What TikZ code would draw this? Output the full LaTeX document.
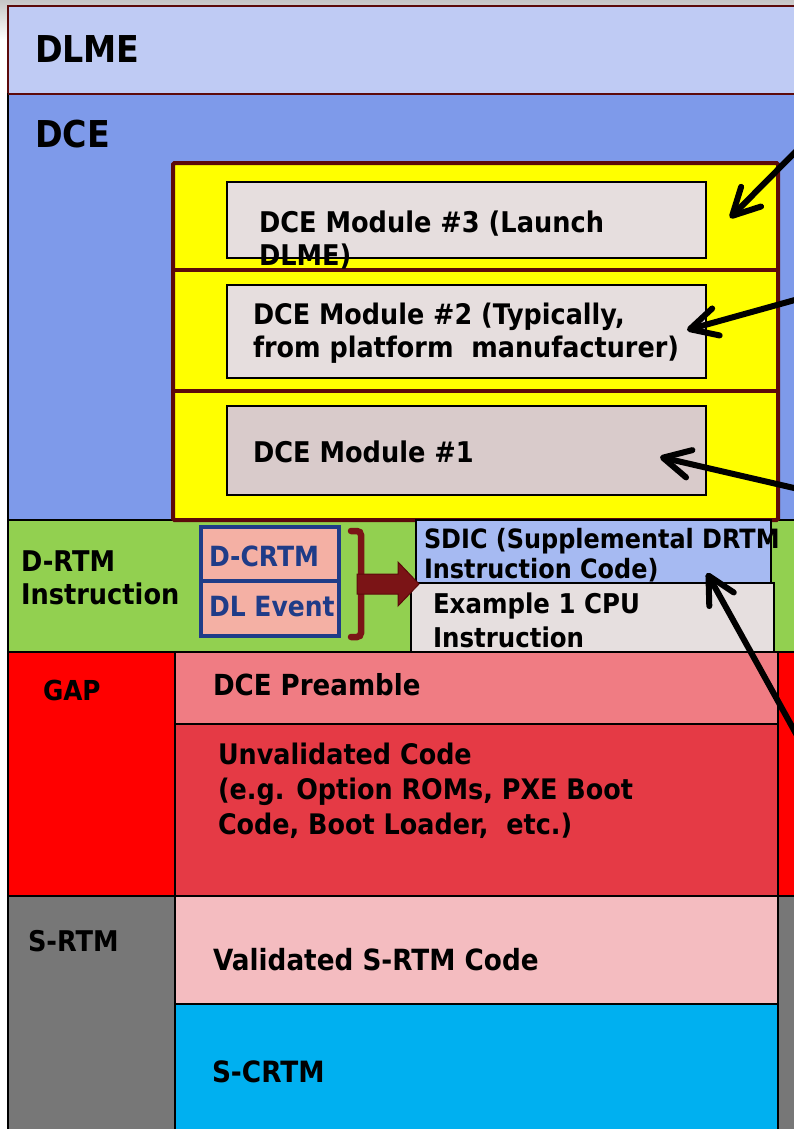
\documentclass[tikz,border=0pt]{standalone}
\usepackage{fontspec}
\setmainfont{DejaVu Sans}[FakeStretch=0.9]
\usetikzlibrary{arrows.meta}

\definecolor{dlmefill}{HTML}{BFCBF4}
\definecolor{dcefill}{HTML}{7E9AEA}
\definecolor{maroonline}{HTML}{5C0A0A}
\definecolor{stackyellow}{HTML}{FFFF00}
\definecolor{modfill}{HTML}{E6DEDE}
\definecolor{modonefill}{HTML}{D9CBCB}
\definecolor{drtmgreen}{HTML}{92D050}
\definecolor{salmon}{HTML}{F4B0A4}
\definecolor{navy}{HTML}{1F3C88}
\definecolor{brackred}{HTML}{7B1416}
\definecolor{sdicfill}{HTML}{A6BAF2}
\definecolor{examplefill}{HTML}{E6DFDF}
\definecolor{gapred}{HTML}{FF0000}
\definecolor{preamblefill}{HTML}{F07C83}
\definecolor{unvalfill}{HTML}{E53A45}
\definecolor{srtmgray}{HTML}{777777}
\definecolor{validfill}{HTML}{F4BCC0}
\definecolor{scrtmfill}{HTML}{00B0F0}

\newcommand\sz[2]{\fontsize{#1}{#2}\selectfont\bfseries}

\tikzset{
  panel/.style={anchor=north west, inner sep=0pt, outer sep=0pt, draw=black, line width=1.4pt},
  modbox/.style={panel, fill=modfill, line width=1.2pt},
  % multi-line labels are placed by the baseline of their last line
  lbl/.style={anchor=base west, inner sep=0pt, outer sep=0pt, align=left},
  pointer/.style={line width=6pt, line cap=round,
    -{Straight Barb[length=27pt, width=28pt, line cap=round, line join=round]}},
}

\begin{document}
\begin{tikzpicture}[x=1pt, y=-1pt]
\useasboundingbox (0,0) rectangle (794,1129);
\clip (0,0) rectangle (794,1129);

% paper behind the slide
\fill[white] (0,0) rectangle (794,1129);
\shade[top color=gray!45, bottom color=white] (0,0) rectangle (794,40);

% horizontal layers
\node (dlme) [panel, draw=maroonline, fill=dlmefill, minimum width=800pt, minimum height=88pt] at (8,6) {};
\node (dce)  [panel, fill=dcefill, minimum width=800pt, minimum height=426pt] at (8,94) {};
\draw[maroonline, line width=1.4pt] (dlme.south west) -- (dlme.south east);
\node (drtm) [panel, fill=drtmgreen, minimum width=800pt, minimum height=132pt] at (8,520) {};
\node (gap)  [panel, fill=gapred, minimum width=800pt, minimum height=244pt] at (8,652) {};
\node (srtm) [panel, fill=srtmgray, minimum width=800pt, minimum height=260pt] at (8,896) {};

% DCE module stack
\node (ybox) [panel, draw=maroonline, fill=stackyellow, line width=4pt, rounded corners=1.5pt,
  minimum width=605pt, minimum height=357pt] at (173,163) {};
\draw[maroonline, line width=4pt] (ybox.west |- 0,270) -- (ybox.east |- 0,270);
\draw[maroonline, line width=4pt] (ybox.west |- 0,391) -- (ybox.east |- 0,391);
\node (m3) [modbox, minimum width=479pt, minimum height=76pt] at (227,182) {};
\node (m2) [modbox, minimum width=479pt, minimum height=93pt] at (227,285) {};
\node (m1) [modbox, fill=modonefill, minimum width=479pt, minimum height=89pt] at (227,406) {};

% D-RTM instruction row
\node (dcrtm) [panel, draw=navy, fill=salmon, line width=3.5pt, minimum width=138pt, minimum height=54pt] at (201,527) {};
\node (dlev)  [panel, draw=navy, fill=salmon, line width=3.5pt, minimum width=138pt, minimum height=55pt] at (201,581) {};
\node (sdic)  [panel, fill=sdicfill, line width=1.2pt, minimum width=355pt, minimum height=63pt] at (416,520) {};
\node (expl)  [panel, fill=examplefill, line width=1.2pt, minimum width=363pt, minimum height=69pt] at (411,583) {};

% bracket and block arrow
\coordinate (brtop) at (351,531);
\coordinate (brbot) at (351,637);
\draw[brackred, line width=6.5pt, line cap=round, rounded corners=4pt]
  (brtop) -- (361,531) -- (361,637) -- (brbot);
\coordinate (fatstart) at (357,584);
\coordinate (fattip) at (419,584);
\filldraw[fill=brackred, draw=maroonline, line width=1pt]
  (fatstart) ++(0,-10) -- (398,574) -- (398,562) -- (fattip) -- (398,606) -- (398,594) -- (357,594) -- cycle;

% GAP and S-RTM columns
\node (pre)   [panel, fill=preamblefill, line width=1.2pt, minimum width=603pt, minimum height=72pt]  at (175,652) {};
\node (unval) [panel, fill=unvalfill, line width=1.2pt, minimum width=603pt, minimum height=172pt] at (175,724) {};
\node (valid) [panel, fill=validfill, line width=1.2pt, minimum width=603pt, minimum height=108pt] at (175,896) {};
\node (scrtm) [panel, fill=scrtmfill, line width=1.2pt, minimum width=603pt, minimum height=150pt] at (175,1004) {};

% labels
\node (tdlme) [lbl, font=\sz{37}{40}] at (35,63) {DLME};
\node (tdce)  [lbl, font=\sz{37}{40}] at (35,147) {DCE};
\node (tm3) [lbl, font=\sz{28.5}{33}] at (259,265) {DCE Module \#3 (Launch\\DLME)};
\node (tm2) [lbl, font=\sz{28.3}{33}] at (253,357) {DCE Module \#2 (Typically,\\from platform~ manufacturer)};
\node (tm1) [lbl, font=\sz{28.5}{33}] at (253,462) {DCE Module \#1};
\node (tdrtm) [lbl, font=\sz{28.5}{33}] at (21,604) {D-RTM\\Instruction};
\node (tdcrtm) [lbl, font=\sz{27.8}{30}, text=navy] at (209,566) {D-CRTM};
\node (tdlev)  [lbl, font=\sz{27.8}{30}, text=navy] at (209,616) {DL Event};
\node (tsdic) [lbl, font=\sz{26.6}{30}] at (424,578) {SDIC (Supplemental DRTM\\Instruction Code)};
\node (texpl) [lbl, font=\sz{27.2}{34}] at (433,647) {Example 1 CPU\\Instruction};
\node (tgap) [lbl, font=\sz{27.5}{30}] at (43,700) {GAP};
\node (tpre) [lbl, font=\sz{29}{30}] at (213,695) {DCE Preamble};
\node (tunval) [lbl, font=\sz{28.3}{35}] at (218,834) {Unvalidated Code\\(e.g. Option ROMs, PXE Boot\\Code, Boot Loader,~ etc.)};
\node (tsrtm) [lbl, font=\sz{28.5}{30}] at (28,951) {S-RTM};
\node (tvalid) [lbl, font=\sz{29.2}{30}] at (213,970) {Validated S-RTM Code};
\node (tscrtm) [lbl, font=\sz{29.3}{30}] at (212,1082) {S-CRTM};

% pointer arrows coming in from the right
\coordinate (p3from) at (820,127);
\coordinate (p3to) at (730,218);
\coordinate (p2from) at (820,293);
\coordinate (p2to) at (687,330);
\coordinate (p1from) at (820,494);
\coordinate (p1to) at (660,457);
\coordinate (psfrom) at (820,777);
\coordinate (psto) at (707,573);
\draw[pointer] (p3from) -- (p3to);
\draw[pointer] (p2from) -- (p2to);
\draw[pointer] (p1from) -- (p1to);
\draw[pointer] (psfrom) -- (psto);
\end{tikzpicture}
\end{document}
